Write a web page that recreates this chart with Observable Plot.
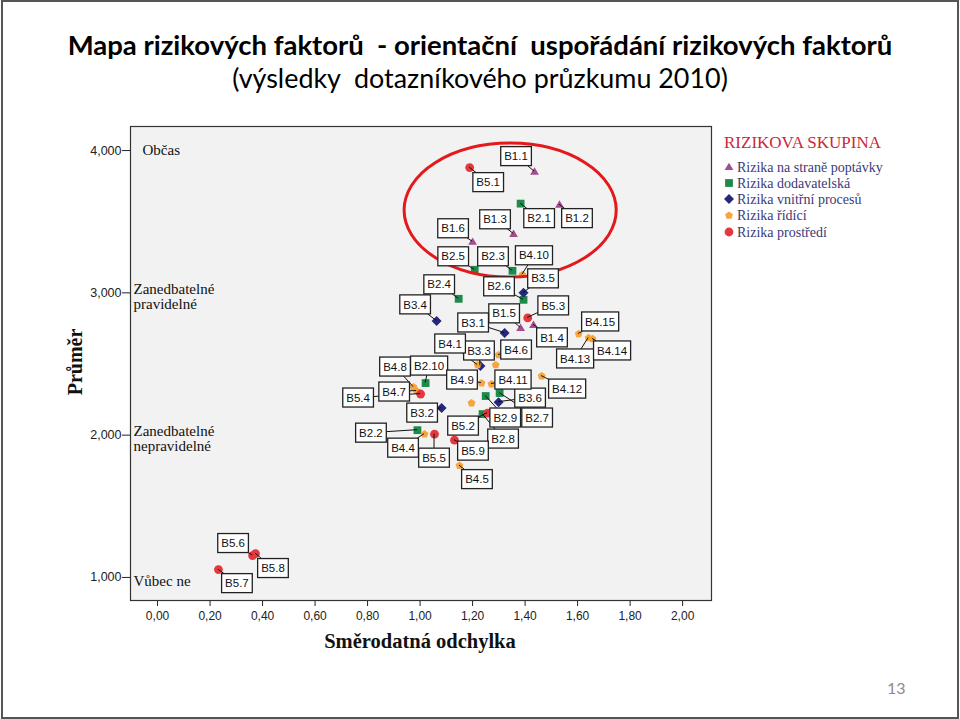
<!DOCTYPE html>
<html lang="cs">
<head>
<meta charset="utf-8">
<script src="https://cdn.jsdelivr.net/npm/d3@7"></script>
<script src="https://cdn.jsdelivr.net/npm/@observablehq/plot@0.6"></script>
<style>
  html, body { margin:0; padding:0; background:#fff; }
  #page { position:relative; width:960px; height:719px; overflow:hidden; background:#fff; }
  #chart { position:absolute; left:0; top:0; }
  #overlay { position:absolute; left:0; top:0; pointer-events:none; }
  .border { position:absolute; left:1px; top:0; width:958px; height:719px; border:2px solid #555; box-sizing:border-box; pointer-events:none; }
</style>
</head>
<body>
<div id="page">
  <div id="chart"></div>
  <svg id="overlay" width="960" height="719"></svg>
  <div class="border"></div>
</div>
<script>
// ---------------- DATA ----------------
const groupNames = ["Rizika na straně poptávky", "Rizika dodavatelská", "Rizika vnitřní procesů", "Rizika řídící", "Rizika prostředí"];
const groupColors = ["#a24d8e", "#1e8b4c", "#26287a", "#f5a53c", "#e2383e"];

const pointIds = [
  "B1.1","B1.2","B1.3","B1.4","B1.5","B1.6",
  "B2.1","B2.2","B2.3","B2.4","B2.5","B2.6","B2.7","B2.8","B2.9","B2.10",
  "B3.1","B3.2","B3.3","B3.4","B3.5","B3.6",
  "B4.1","B4.2","B4.3","B4.4","B4.5","B4.6","B4.7","B4.8","B4.9","B4.10","B4.11","B4.12","B4.13","B4.14","B4.15",
  "B5.1","B5.2","B5.3","B5.4","B5.5","B5.6","B5.7","B5.8","B5.9"
];
const pointGroups = [
  0,0,0,0,0,0,
  1,1,1,1,1,1,1,1,1,1,
  2,2,2,2,2,2,
  3,3,3,3,3,3,3,3,3,3,3,3,3,3,3,
  4,4,4,4,4,4,4,4,4
];
// Směrodatná odchylka (x)
const sdValues = [
  1.436,1.531,1.356,1.432,1.383,1.200,
  1.383,0.990,1.352,1.147,1.208,1.394,1.303,1.238,1.250,1.021,
  1.322,1.082,1.230,1.063,1.394,1.299,
  1.219,1.288,1.196,1.017,1.150,1.299,0.987,0.975,1.234,1.390,1.272,1.463,1.642,1.657,1.604,
  1.189,1.257,1.410,1.002,1.055,0.362,0.232,0.373,1.131
];
// Průměr (y)
const meanValues = [
  3.852,3.620,3.415,2.775,2.754,3.359,
  3.627,2.035,3.155,2.958,3.162,2.951,2.296,2.148,2.275,2.366,
  2.718,2.190,2.486,2.803,3.000,2.232,
  2.493,2.493,2.225,2.007,1.786,2.563,2.310,2.338,2.366,3.127,2.359,2.415,2.683,2.676,2.711,
  3.880,2.155,2.824,2.289,2.007,1.154,1.055,1.168,1.965
];
const xTicks = [0, 0.2, 0.4, 0.6, 0.8, 1.0, 1.2, 1.4, 1.6, 1.8, 2.0];
const yTicks = [1, 2, 3, 4];
const yCategoryValues = [3, 2, 1];
const yCategoryLabels = ["Zanedbatelné\npravidelné", "Zanedbatelné\nnepravidelné", "Vůbec ne"];
const yTopValue = [4];
const yTopLabel = ["Občas"];
const highlightEllipse = {sd: 1.345, mean: 3.578, rSd: 0.404, rMean: 0.471};

// ---------------- LAYOUT (label placement, pixels from the point) ----------------
const labelOffsets = [
  [-18,-15],[18,14],[-18,-14],[19,13],[-16,-14],[-19,-13],
  [19,15],[-46,3],[-19,-14],[-19,-14],[-21,-13],[-24,-13],[38,25],[21,25],[20,22],[4,-17],
  [-31,-10],[-19,5],[-1,-15],[-21,-16],[20,-14],[32,-4],
  [-27,-21],null,null,[-21,14],[18,14],[18,-5],[-22,1],[-18,-20],[-19,-3],[12,-19],[22,-4],[26,13],[-13,21],[20,12],[22,-12],
  [19,15],[-24,13],[26,-12],[-62,4],[0,24],[-19,-12],[19,14],[18,15],[19,11]
];

// ---------------- SYMBOLS ----------------
const shapes = [
  {draw(c){ c.moveTo(0,-4.3); c.lineTo(4.4,3.1); c.lineTo(-4.4,3.1); c.closePath(); }},
  {draw(c){ c.rect(-3.9,-3.9,7.8,7.8); }},
  {draw(c){ c.moveTo(0,-5); c.lineTo(5,0); c.lineTo(0,5); c.lineTo(-5,0); c.closePath(); }},
  {draw(c){ for (let i = 0; i < 5; i++) { const a = -Math.PI/2 + i*2*Math.PI/5; const px = 4.1*Math.cos(a), py = 4.1*Math.sin(a); if (i) c.lineTo(px,py); else c.moveTo(px,py);} c.closePath(); }},
  {draw(c){ c.moveTo(4.4,0); c.arc(0,0,4.4,0,2*Math.PI); }}
];

const points = pointIds.map((id, i) => ({id, group: pointGroups[i], sd: sdValues[i], mean: meanValues[i], off: labelOffsets[i]}));

const serif = "'Liberation Serif', 'Times New Roman', serif";
const sans = "'Liberation Sans', Arial, sans-serif";

const plot = Plot.plot({
  width: 960,
  height: 719,
  marginLeft: 130,
  marginRight: 249,
  marginTop: 126,
  marginBottom: 119,
  style: {background: "transparent", fontFamily: sans, fontSize: "12px", color: "#222", overflow: "visible"},
  x: {domain: [-0.103, 2.110], ticks: xTicks, tickFormat: d => d.toFixed(2).replace(".", ","), tickSize: 6, tickPadding: 5, label: null},
  y: {domain: [0.838, 4.169], ticks: yTicks, tickFormat: d => d.toFixed(3).replace(".", ","), tickSize: 8, tickPadding: 1, label: null},
  marks: [
    Plot.frame({fill: "#f2f2f2", stroke: "#333", strokeWidth: 1.2}),
    Plot.text(yTopLabel, {y: yTopValue, text: d => d, frameAnchor: "left", dx: 12, textAnchor: "start", lineAnchor: "middle", fontFamily: serif, fontSize: 15, fill: "#111"}),
    Plot.text(yCategoryLabels, {y: yCategoryValues, text: d => d, frameAnchor: "left", dx: 3, dy: 4, textAnchor: "start", lineAnchor: "middle", lineHeight: 1.0, fontFamily: serif, fontSize: 15, fill: "#111"}),
    ...groupNames.map((g, gi) => Plot.dot(points.filter(p => p.group === gi), {x: "sd", y: "mean", symbol: shapes[gi], fill: groupColors[gi], stroke: "none", r: 4}))
  ]
});
document.getElementById("chart").appendChild(plot);

const svg = d3.select(plot);
svg.selectAll('[aria-label^="x-axis"]').attr("font-size", null).style("font-size", "12px");
svg.selectAll('[aria-label^="x-axis"] text').style("font-size", "12px");
svg.selectAll('[aria-label^="y-axis"]').attr("font-size", null).style("font-size", "12.5px");
svg.selectAll('[aria-label^="y-axis"] text').style("font-size", "12.5px");

const sx = plot.scale("x"), sy = plot.scale("y");
const fx = sx.apply ? v => sx.apply(v) : d3.scaleLinear(sx.domain, sx.range);
const fy = sy.apply ? v => sy.apply(v) : d3.scaleLinear(sy.domain, sy.range);

// highlight ellipse
const ecx = fx(highlightEllipse.sd), ecy = fy(highlightEllipse.mean);
svg.append("ellipse")
  .attr("cx", ecx).attr("cy", ecy)
  .attr("rx", fx(highlightEllipse.sd + highlightEllipse.rSd) - ecx)
  .attr("ry", ecy - fy(highlightEllipse.mean + highlightEllipse.rMean))
  .attr("fill", "none").attr("stroke", "#e3191c").attr("stroke-width", 3);

// labels
const labeled = points.filter(p => p.off);
const gl = svg.append("g").attr("stroke", "#111").attr("stroke-width", 1);
const gb = svg.append("g").attr("font-family", sans).attr("font-size", 11.5);
labeled.forEach(p => {
  p.px = fx(p.sd); p.py = fy(p.mean);
  p.cx = p.px + p.off[0]; p.cy = p.py + p.off[1];
  const t = gb.append("text").text(p.id).attr("x", p.cx).attr("y", p.cy).attr("dy", "0.36em").attr("text-anchor", "middle").attr("fill", "#111");
  p.w = t.node().getComputedTextLength() + 7; p.h = 19;
  t.remove();
});
labeled.forEach(p => {
  const dx = p.px - p.cx, dy = p.py - p.cy;
  const hw = p.w/2, hh = p.h/2;
  const t = Math.min(dx ? hw/Math.abs(dx) : Infinity, dy ? hh/Math.abs(dy) : Infinity);
  if (t < 1) {
    gl.append("line").attr("x1", p.px).attr("y1", p.py).attr("x2", p.cx + dx*t).attr("y2", p.cy + dy*t);
  }
});
labeled.forEach(p => {
  gb.append("rect").attr("x", p.cx - p.w/2).attr("y", p.cy - p.h/2).attr("width", p.w).attr("height", p.h)
    .attr("fill", "#fff").attr("stroke", "#222").attr("stroke-width", 1.3);
  gb.append("text").text(p.id).attr("x", p.cx).attr("y", p.cy).attr("dy", "0.36em").attr("text-anchor", "middle").attr("fill", "#111");
});

// ---------------- OVERLAY TEXT ----------------
const ov = d3.select("#overlay");
function fitText(sel, target, base) {
  const w = sel.node().getComputedTextLength();
  sel.attr("font-size", base * target / w);
}
const t1 = ov.append("text").attr("x", 480).attr("y", 55).attr("text-anchor", "middle")
  .attr("font-family", "Lato, 'Open Sans', sans-serif").attr("font-weight", 700).attr("font-size", 30)
  .style("white-space", "pre").attr("xml:space", "preserve")
  .text("Mapa rizikových faktorů  - orientační  uspořádání rizikových faktorů");
fitText(t1, 825, 30);
const t2 = ov.append("text").attr("x", 480).attr("y", 88).attr("text-anchor", "middle")
  .attr("font-family", "Lato, 'Open Sans', sans-serif").attr("font-weight", 400).attr("font-size", 30)
  .style("white-space", "pre").attr("xml:space", "preserve")
  .text("(výsledky  dotazníkového průzkumu 2010)");
fitText(t2, 496, 30);

ov.append("text").attr("transform", "translate(82,362) rotate(-90)").attr("text-anchor", "middle")
  .attr("font-family", serif).attr("font-weight", 700).attr("font-size", 20).attr("fill", "#111").text("Průměr");
ov.append("text").attr("x", 420).attr("y", 648).attr("text-anchor", "middle")
  .attr("font-family", serif).attr("font-weight", 700).attr("font-size", 20.5).attr("fill", "#111").text("Směrodatná odchylka");

// legend
ov.append("text").attr("x", 724).attr("y", 148).attr("font-family", serif).attr("font-size", 17).attr("fill", "#c8283a").text("RIZIKOVA SKUPINA");
const legY = [167, 183, 199, 215.5, 232];
groupNames.forEach((g, i) => {
  ov.append("path").attr("transform", `translate(729,${legY[i]})`).attr("d", d3.symbol(shapes[i])()).attr("fill", groupColors[i]);
  ov.append("text").attr("x", 737).attr("y", legY[i] + 4.5).attr("font-family", serif).attr("font-size", 14).attr("fill", "#3a3a78").text(g);
});

ov.append("text").attr("x", 887).attr("y", 694).attr("font-family", "Lato, 'Open Sans', sans-serif").attr("font-size", 16).attr("fill", "#8c8c8c").text("13");
</script>
</body>
</html>
